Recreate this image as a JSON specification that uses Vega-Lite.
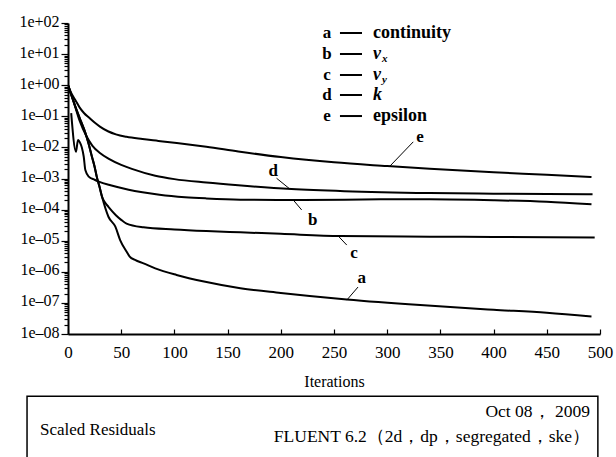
{
  "$schema": "https://vega.github.io/schema/vega-lite/v6.json",
  "width": 532,
  "height": 311,
  "autosize": {"type": "none"},
  "padding": {"left": 68, "top": 23, "right": 16, "bottom": 123},
  "background": "white",
  "config": {"view": {"stroke": null}, "font": "Liberation Serif"},
  "datasets": {
    "curves": [
      {"series": "e", "it": 0, "r": 1.0},
      {"series": "e", "it": 3, "r": 0.562},
      {"series": "e", "it": 7, "r": 0.331},
      {"series": "e", "it": 11, "r": 0.190},
      {"series": "e", "it": 15, "r": 0.128},
      {"series": "e", "it": 20, "r": 0.0891},
      {"series": "e", "it": 25, "r": 0.0631},
      {"series": "e", "it": 30, "r": 0.0468},
      {"series": "e", "it": 38, "r": 0.0324},
      {"series": "e", "it": 45, "r": 0.0263},
      {"series": "e", "it": 55, "r": 0.0219},
      {"series": "e", "it": 70, "r": 0.0186},
      {"series": "e", "it": 85, "r": 0.0162},
      {"series": "e", "it": 100, "r": 0.0141},
      {"series": "e", "it": 117, "r": 0.0120},
      {"series": "e", "it": 130, "r": 0.0105},
      {"series": "e", "it": 160, "r": 0.00741},
      {"series": "e", "it": 200, "r": 0.00490},
      {"series": "e", "it": 250, "r": 0.00331},
      {"series": "e", "it": 300, "r": 0.00251},
      {"series": "e", "it": 340, "r": 0.00204},
      {"series": "e", "it": 400, "r": 0.00158},
      {"series": "e", "it": 450, "r": 0.00132},
      {"series": "e", "it": 492, "r": 0.00112},
      {"series": "d", "it": 0, "r": 1.0},
      {"series": "d", "it": 5, "r": 0.316},
      {"series": "d", "it": 11, "r": 0.0708},
      {"series": "d", "it": 17, "r": 0.0240},
      {"series": "d", "it": 23, "r": 0.0112},
      {"series": "d", "it": 30, "r": 0.00661},
      {"series": "d", "it": 38, "r": 0.00437},
      {"series": "d", "it": 50, "r": 0.00275},
      {"series": "d", "it": 60, "r": 0.00204},
      {"series": "d", "it": 82, "r": 0.00123},
      {"series": "d", "it": 100, "r": 0.000955},
      {"series": "d", "it": 130, "r": 0.000741},
      {"series": "d", "it": 160, "r": 0.000603},
      {"series": "d", "it": 210, "r": 0.000457},
      {"series": "d", "it": 260, "r": 0.000389},
      {"series": "d", "it": 340, "r": 0.000339},
      {"series": "d", "it": 400, "r": 0.000324},
      {"series": "d", "it": 493, "r": 0.000309},
      {"series": "b", "it": 3, "r": 0.126},
      {"series": "b", "it": 7.5, "r": 0.00724},
      {"series": "b", "it": 9.4, "r": 0.0174},
      {"series": "b", "it": 11.6, "r": 0.0135},
      {"series": "b", "it": 13, "r": 0.0100},
      {"series": "b", "it": 14.8, "r": 0.00501},
      {"series": "b", "it": 16.3, "r": 0.00186},
      {"series": "b", "it": 19.5, "r": 0.00115},
      {"series": "b", "it": 25, "r": 0.000912},
      {"series": "b", "it": 29, "r": 0.000794},
      {"series": "b", "it": 40, "r": 0.000603},
      {"series": "b", "it": 57, "r": 0.000437},
      {"series": "b", "it": 70, "r": 0.000363},
      {"series": "b", "it": 86, "r": 0.000302},
      {"series": "b", "it": 110, "r": 0.000251},
      {"series": "b", "it": 130, "r": 0.000229},
      {"series": "b", "it": 162, "r": 0.000209},
      {"series": "b", "it": 211, "r": 0.000204},
      {"series": "b", "it": 260, "r": 0.000209},
      {"series": "b", "it": 300, "r": 0.000214},
      {"series": "b", "it": 340, "r": 0.000214},
      {"series": "b", "it": 400, "r": 0.000200},
      {"series": "b", "it": 450, "r": 0.000178},
      {"series": "b", "it": 492, "r": 0.000148},
      {"series": "c", "it": 0, "r": 1.0},
      {"series": "c", "it": 7, "r": 0.200},
      {"series": "c", "it": 12, "r": 0.0708},
      {"series": "c", "it": 16, "r": 0.0316},
      {"series": "c", "it": 19.5, "r": 0.0126},
      {"series": "c", "it": 22.5, "r": 0.00501},
      {"series": "c", "it": 25, "r": 0.00240},
      {"series": "c", "it": 27, "r": 0.00115},
      {"series": "c", "it": 29.5, "r": 0.000562},
      {"series": "c", "it": 32, "r": 0.000257},
      {"series": "c", "it": 35, "r": 0.000166},
      {"series": "c", "it": 38, "r": 0.000123},
      {"series": "c", "it": 45, "r": 0.0000661},
      {"series": "c", "it": 50, "r": 0.0000468},
      {"series": "c", "it": 55, "r": 0.0000355},
      {"series": "c", "it": 71, "r": 0.0000269},
      {"series": "c", "it": 100, "r": 0.0000229},
      {"series": "c", "it": 130, "r": 0.0000204},
      {"series": "c", "it": 162, "r": 0.0000186},
      {"series": "c", "it": 200, "r": 0.0000166},
      {"series": "c", "it": 256, "r": 0.0000141},
      {"series": "c", "it": 340, "r": 0.0000135},
      {"series": "c", "it": 400, "r": 0.0000132},
      {"series": "c", "it": 495, "r": 0.0000126},
      {"series": "a", "it": 0, "r": 1.0},
      {"series": "a", "it": 7, "r": 0.200},
      {"series": "a", "it": 12, "r": 0.0708},
      {"series": "a", "it": 16, "r": 0.0316},
      {"series": "a", "it": 19.5, "r": 0.0126},
      {"series": "a", "it": 22.5, "r": 0.00501},
      {"series": "a", "it": 25, "r": 0.00240},
      {"series": "a", "it": 27, "r": 0.00115},
      {"series": "a", "it": 29.5, "r": 0.000562},
      {"series": "a", "it": 32, "r": 0.000257},
      {"series": "a", "it": 38, "r": 0.0000589},
      {"series": "a", "it": 44.5, "r": 0.0000282},
      {"series": "a", "it": 49, "r": 0.0000105},
      {"series": "a", "it": 55, "r": 0.00000447},
      {"series": "a", "it": 58, "r": 0.00000309},
      {"series": "a", "it": 63, "r": 0.0000024},
      {"series": "a", "it": 71, "r": 0.00000186},
      {"series": "a", "it": 82, "r": 0.00000129},
      {"series": "a", "it": 102, "r": 0.000000794},
      {"series": "a", "it": 129, "r": 0.000000479},
      {"series": "a", "it": 162, "r": 0.000000295},
      {"series": "a", "it": 200, "r": 0.000000209},
      {"series": "a", "it": 262, "r": 0.000000129},
      {"series": "a", "it": 331, "r": 0.0000000851},
      {"series": "a", "it": 400, "r": 0.0000000603},
      {"series": "a", "it": 450, "r": 0.0000000479},
      {"series": "a", "it": 492, "r": 0.0000000363}
    ],
    "pointers": [
      {"series": "a", "it1": 272.6, "r1": 3.24e-7, "it2": 262, "r2": 1.23e-7, "tit": 276, "tr": 6.17e-7},
      {"series": "b", "it1": 219.6, "r1": 9.77e-5, "it2": 211.7, "r2": 2.04e-4, "tit": 230, "tr": 4.68e-5},
      {"series": "c", "it1": 262, "r1": 7.24e-6, "it2": 254, "r2": 1.41e-5, "tit": 268.8, "tr": 4.07e-6},
      {"series": "d", "it1": 196, "r1": 1.02e-3, "it2": 208.6, "r2": 4.57e-4, "tit": 193, "tr": 1.74e-3},
      {"series": "e", "it1": 324.5, "r1": 0.0151, "it2": 302.6, "r2": 0.00251, "tit": 330.8, "tr": 0.0219}
    ],
    "legend": [
      {"series": "a", "r": 47.7, "name": "continuity", "style": "plain", "sub": ""},
      {"series": "b", "r": 10.07, "name": "v", "style": "italic", "sub": "x"},
      {"series": "c", "r": 2.13, "name": "v", "style": "italic", "sub": "y"},
      {"series": "d", "r": 0.484, "name": "k", "style": "italic", "sub": ""},
      {"series": "e", "r": 0.102, "name": "epsilon", "style": "plain", "sub": ""}
    ]
  },
  "layer": [
    {
      "data": {"name": "curves"},
      "mark": {"type": "line", "color": "black", "strokeWidth": 2, "interpolate": "monotone", "clip": true},
      "encoding": {
        "x": {
          "field": "it", "type": "quantitative",
          "scale": {"domain": [0, 500], "nice": false, "zero": false},
          "axis": {
            "title": "Iterations",
            "titleFont": "Liberation Serif", "titleFontSize": 16, "titleFontWeight": "normal", "titleColor": "black", "titlePadding": 13,
            "values": [0, 25, 50, 75, 100, 125, 150, 175, 200, 225, 250, 275, 300, 325, 350, 375, 400, 425, 450, 475, 500],
            "labelExpr": "datum.value % 50 == 0 ? datum.label : ''",
            "labelFont": "Liberation Serif", "labelFontSize": 17, "labelColor": "black",
            "labelFlush": false, "labelOverlap": false, "labelPadding": 15,
            "tickSize": -5, "tickColor": "black", "tickWidth": 1.2,
            "domainColor": "black", "domainWidth": 2, "grid": false
          }
        },
        "y": {
          "field": "r", "type": "quantitative",
          "scale": {"type": "log", "domain": [1e-8, 100], "nice": false, "zero": false},
          "axis": {
            "title": null,
            "values": [1e-8, 2e-8, 3e-8, 4e-8, 5e-8, 6e-8, 7e-8, 8e-8, 9e-8,
                       1e-7, 2e-7, 3e-7, 4e-7, 5e-7, 6e-7, 7e-7, 8e-7, 9e-7,
                       1e-6, 2e-6, 3e-6, 4e-6, 5e-6, 6e-6, 7e-6, 8e-6, 9e-6,
                       1e-5, 2e-5, 3e-5, 4e-5, 5e-5, 6e-5, 7e-5, 8e-5, 9e-5,
                       1e-4, 2e-4, 3e-4, 4e-4, 5e-4, 6e-4, 7e-4, 8e-4, 9e-4,
                       0.001, 0.002, 0.003, 0.004, 0.005, 0.006, 0.007, 0.008, 0.009,
                       0.01, 0.02, 0.03, 0.04, 0.05, 0.06, 0.07, 0.08, 0.09,
                       0.1, 0.2, 0.3, 0.4, 0.5, 0.6, 0.7, 0.8, 0.9,
                       1, 2, 3, 4, 5, 6, 7, 8, 9,
                       10, 20, 30, 40, 50, 60, 70, 80, 90, 100],
            "labelExpr": "abs(log(datum.value)/LN10 - round(log(datum.value)/LN10)) < 0.001 ? '1e' + (round(log(datum.value)/LN10) >= 0 ? '+' : '–') + (abs(round(log(datum.value)/LN10)) < 10 ? '0' : '') + abs(round(log(datum.value)/LN10)) : ''",
            "labelFont": "Liberation Serif", "labelFontSize": 16, "labelColor": "black",
            "labelFlush": false, "labelOverlap": false, "labelPadding": 2, "labelOffset": -2,
            "tickSize": {"condition": {"test": "abs(log(datum.value)/LN10 - round(log(datum.value)/LN10)) < 0.001", "value": 7}, "value": 4},
            "tickColor": "black", "tickWidth": 1.2,
            "domainColor": "black", "domainWidth": 2, "grid": false
          }
        },
        "detail": {"field": "series"}
      }
    },
    {
      "data": {"name": "pointers"},
      "mark": {"type": "rule", "color": "black", "strokeWidth": 1},
      "encoding": {
        "x": {"field": "it1", "type": "quantitative"},
        "y": {"field": "r1", "type": "quantitative"},
        "x2": {"field": "it2"},
        "y2": {"field": "r2"}
      }
    },
    {
      "data": {"name": "pointers"},
      "mark": {"type": "text", "font": "Liberation Serif", "fontSize": 17, "fontWeight": "bold", "color": "black", "baseline": "middle", "align": "center"},
      "encoding": {
        "x": {"field": "tit", "type": "quantitative"},
        "y": {"field": "tr", "type": "quantitative"},
        "text": {"field": "series"}
      }
    },
    {
      "data": {"name": "legend"},
      "mark": {"type": "text", "font": "Liberation Serif", "fontSize": 17, "fontWeight": "bold", "color": "black", "baseline": "middle", "align": "center"},
      "encoding": {
        "x": {"datum": 243.4, "type": "quantitative"},
        "y": {"field": "r", "type": "quantitative"},
        "text": {"field": "series"}
      }
    },
    {
      "data": {"name": "legend"},
      "mark": {"type": "rule", "color": "black", "strokeWidth": 2},
      "encoding": {
        "x": {"datum": 255.6, "type": "quantitative"},
        "x2": {"datum": 276.3},
        "y": {"field": "r", "type": "quantitative"}
      }
    },
    {
      "data": {"name": "legend"},
      "transform": [{"filter": "datum.style == 'plain'"}],
      "mark": {"type": "text", "font": "Liberation Serif", "fontSize": 18, "fontWeight": "bold", "color": "black", "baseline": "middle", "align": "left"},
      "encoding": {
        "x": {"datum": 286.7, "type": "quantitative"},
        "y": {"field": "r", "type": "quantitative"},
        "text": {"field": "name"}
      }
    },
    {
      "data": {"name": "legend"},
      "transform": [{"filter": "datum.style == 'italic'"}],
      "mark": {"type": "text", "font": "Liberation Serif", "fontSize": 18, "fontWeight": "bold", "fontStyle": "italic", "color": "black", "baseline": "middle", "align": "left"},
      "encoding": {
        "x": {"datum": 286.7, "type": "quantitative"},
        "y": {"field": "r", "type": "quantitative"},
        "text": {"field": "name"}
      }
    },
    {
      "data": {"name": "legend"},
      "transform": [{"filter": "datum.sub != ''"}],
      "mark": {"type": "text", "font": "Liberation Serif", "fontSize": 11, "fontWeight": "bold", "fontStyle": "italic", "color": "black", "baseline": "middle", "align": "left", "dx": 9, "dy": 5},
      "encoding": {
        "x": {"datum": 286.7, "type": "quantitative"},
        "y": {"field": "r", "type": "quantitative"},
        "text": {"field": "sub"}
      }
    },
    {
      "data": {"values": [{}]},
      "mark": {"type": "rect", "fill": "white", "fillOpacity": 0, "stroke": "black", "strokeWidth": 1.5},
      "encoding": {
        "x": {"datum": -38.5, "type": "quantitative"},
        "x2": {"datum": 498},
        "y": {"datum": 1e-10, "type": "quantitative"},
        "y2": {"datum": 1e-13}
      }
    },
    {
      "data": {"values": [{"t": "Scaled Residuals"}]},
      "mark": {"type": "text", "font": "Liberation Serif", "fontSize": 17, "color": "black", "baseline": "middle", "align": "left"},
      "encoding": {
        "x": {"datum": -26.3, "type": "quantitative"},
        "y": {"datum": 8.1e-12, "type": "quantitative"},
        "text": {"field": "t"}
      }
    },
    {
      "data": {"values": [{"t": "Oct 08， 2009", "r": 3.1e-11}, {"t": "FLUENT 6.2（2d，dp，segregated，ske）", "r": 4.9e-12}]},
      "mark": {"type": "text", "font": "Liberation Serif", "fontSize": 17.5, "color": "black", "baseline": "middle", "align": "right"},
      "encoding": {
        "x": {"datum": 490.6, "type": "quantitative"},
        "y": {"field": "r", "type": "quantitative"},
        "text": {"field": "t"}
      }
    }
  ]
}
